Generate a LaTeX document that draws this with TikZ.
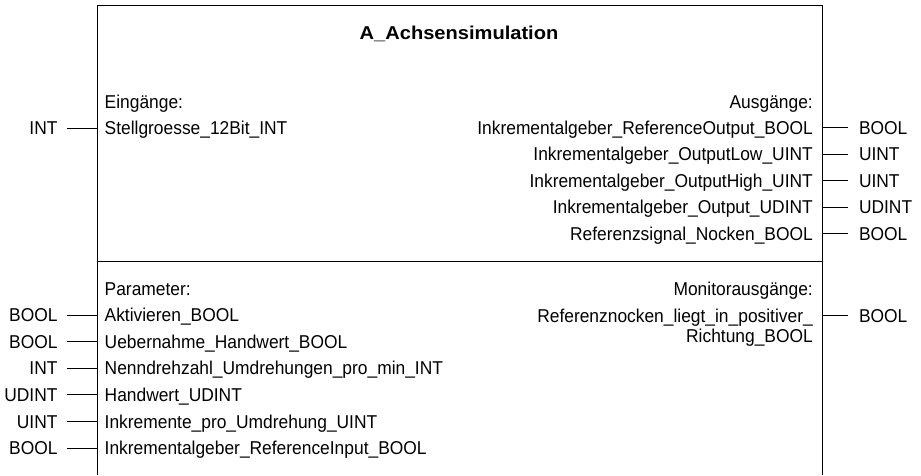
\documentclass[tikz,border=0pt]{standalone}
\usepackage{fontspec}
\setmainfont{Liberation Sans}[FakeStretch=0.935]
\newfontfamily\titlefont{Liberation Sans}[FakeStretch=1.08]
\begin{document}
\begin{tikzpicture}[x=1pt,y=-1pt,
  lbl/.style={inner ysep=0pt, text height=13.3pt, text depth=0pt,
              font=\fontsize{18.6}{20}\selectfont},
  typeL/.style={lbl, inner xsep=9pt, anchor=east},
  portL/.style={lbl, inner xsep=7.5pt, anchor=west},
  portR/.style={lbl, inner xsep=9pt, anchor=east},
  typeR/.style={lbl, inner xsep=10.5pt, anchor=west},
  wire/.style={line width=0.9pt},
  frame/.style={line width=1pt}]
\useasboundingbox (0,0) rectangle (921,475);

% block outline (open at the bottom) and section divider
\draw[frame] (97,475) -- (97,5) -- (822,5) -- (822,475);
\draw[frame] (97,261.5) -- (822,261.5);

% title
\node[lbl, font=\titlefont\bfseries\fontsize{18.6}{20}\selectfont] (title) at (459,33.3) {A\_Achsensimulation};

% headings
\node[portL] (hin)  at (97,101.5)  {Eingänge:};
\node[portR] (hout) at (822,101.5) {Ausgänge:};
\node[portL] (hpar) at (97,288.5)  {Parameter:};
\node[portR] (hmon) at (822,288.5) {Monitorausgänge:};

% inputs
\node[typeL] (it1) at (66.7,128) {INT};
\node[portL] (ip1) at (97,128) {Stellgroesse\_12Bit\_INT};
\draw[wire] (it1.east) -- (ip1.west);

% outputs
\foreach \nm/\ty [count=\i] in {
    Inkrementalgeber\_ReferenceOutput\_BOOL/BOOL,
    Inkrementalgeber\_OutputLow\_UINT/UINT,
    Inkrementalgeber\_OutputHigh\_UINT/UINT,
    Inkrementalgeber\_Output\_UDINT/UDINT,
    Referenzsignal\_Nocken\_BOOL/BOOL} {
  \pgfmathsetmacro\yy{127.5+26.6*(\i-1)}
  \node[portR] (op\i) at (822,\yy) {\nm};
  \node[typeR] (ot\i) at (848.3,\yy) {\ty};
  \draw[wire] (op\i.east) -- (ot\i.west);
}

% parameters
\foreach \ty/\nm [count=\i] in {
    BOOL/Aktivieren\_BOOL,
    BOOL/Uebernahme\_Handwert\_BOOL,
    INT/Nenndrehzahl\_Umdrehungen\_pro\_min\_INT,
    UDINT/Handwert\_UDINT,
    UINT/Inkremente\_pro\_Umdrehung\_UINT,
    BOOL/Inkrementalgeber\_ReferenceInput\_BOOL} {
  \pgfmathsetmacro\yy{315+26.6*(\i-1)}
  \node[typeL] (pt\i) at (66.7,\yy) {\ty};
  \node[portL] (pp\i) at (97,\yy) {\nm};
  \draw[wire] (pt\i.east) -- (pp\i.west);
}

% monitor output (name wraps onto a second line)
\node[portR] (mp1) at (822,315.5) {Referenznocken\_liegt\_in\_positiver\_};
\node[portR] (mp1b) at (822,336) {Richtung\_BOOL};
\node[typeR] (mt1) at (848.3,315.5) {BOOL};
\draw[wire] (mp1.east) -- (mt1.west);
\end{tikzpicture}
\end{document}
